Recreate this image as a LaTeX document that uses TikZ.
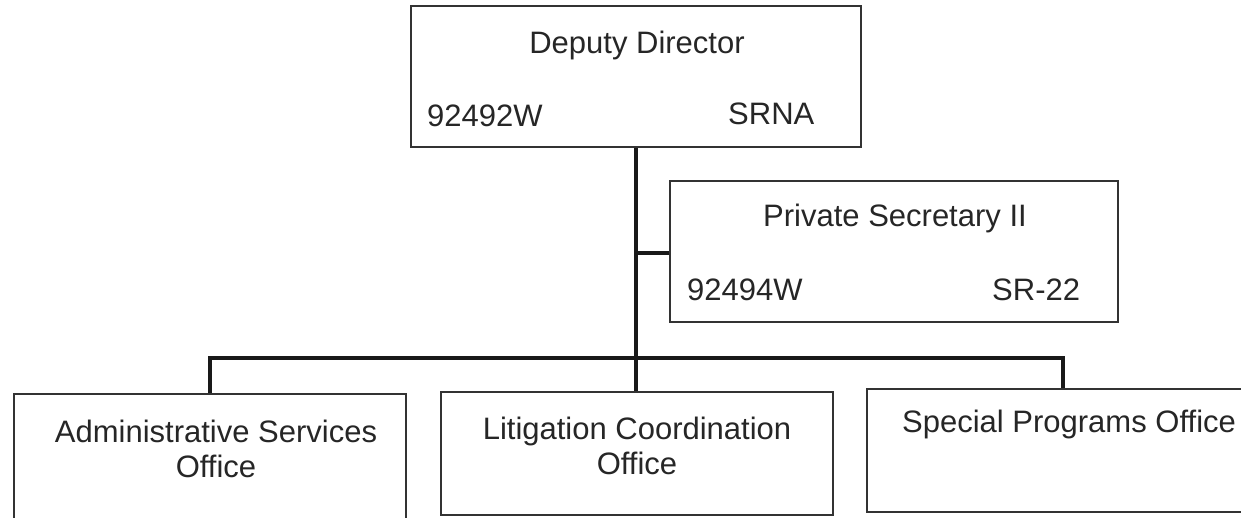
\documentclass[tikz,border=0pt]{standalone}
\usepackage{fontspec}
\setmainfont{Liberation Sans}
\begin{document}
\begin{tikzpicture}[x=1pt,y=-1pt,
  box/.style={draw=black!80,line width=1.4pt,inner sep=0pt,fill=none},
  conn/.style={draw=black!90,line width=4pt},
  txt/.style={inner sep=0pt,font=\fontsize{31}{35}\selectfont,text=black!85}]
\useasboundingbox (0,0) rectangle (1241,517);
\clip (0,0) rectangle (1241,517);
% boxes
\node[box,minimum width=450pt,minimum height=141pt] (dd) at (636,76.5) {};
\node[box,minimum width=448pt,minimum height=141pt] (ps) at (894,251.5) {};
\node[box,minimum width=392pt,minimum height=140pt] (adm) at (210,464) {};
\node[box,minimum width=392pt,minimum height=123pt] (lit) at (637,453.5) {};
\node[box,minimum width=400pt,minimum height=123pt] (spo) at (1067,450.5) {};
% texts
\node[txt,anchor=base] (ddt) at (637,53) {Deputy Director};
\node[txt,anchor=base west] (ddc) at (427,126) {92492W};
\node[txt,anchor=base west] (ddg) at (728,124) {SRNA};
\node[txt,anchor=base west] (pst) at (763,226) {Private Secretary II};
\node[txt,anchor=base west] (psc) at (687,300) {92494W};
\node[txt,anchor=base west] (psg) at (992,300) {SR-22};
\node[txt,anchor=base,align=center] (admt) at (216,442) {Administrative Services};
\node[txt,anchor=base] (admt2) at (216,477) {Office};
\node[txt,anchor=base] (litt) at (637,439) {Litigation Coordination};
\node[txt,anchor=base] (litt2) at (637,474) {Office};
\node[txt,anchor=base west] (spot) at (902,432) {Special Programs Office};
% connectors
\coordinate (busL) at (210,358);
\coordinate (busR) at (1063,358);
\coordinate (busM) at (636,358);
\draw[conn] (dd.south -| busM) -- (busM) -- (lit.north -| busM);
\draw[conn] (ps.west |- 0,253) -- (636,253);
\draw[conn,line join=miter] (adm.north -| busL) -- (busL) -- (busR) -- (spo.north -| busR);
\end{tikzpicture}
\end{document}
